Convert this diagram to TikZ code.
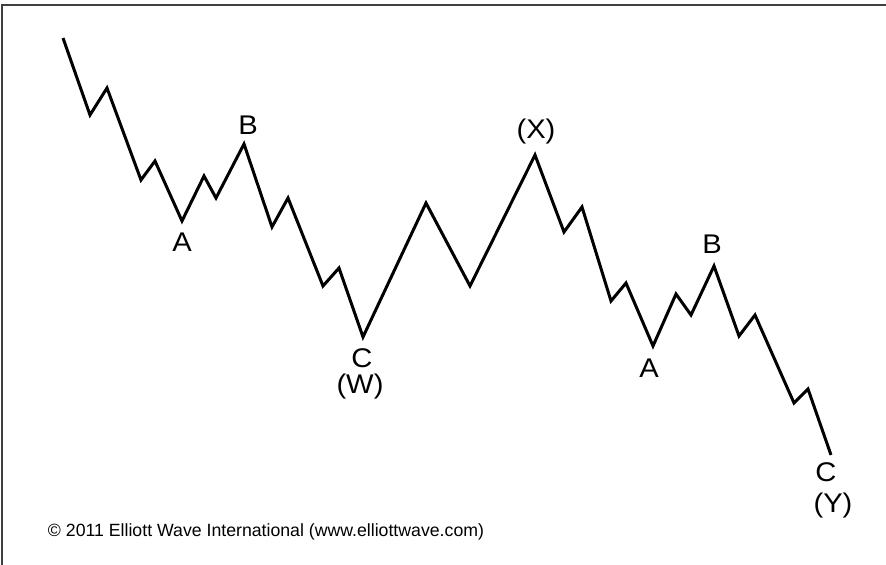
\documentclass[tikz,border=0pt]{standalone}
\usepackage{fontspec}
\setmainfont{Liberation Sans}
\begin{document}
\begin{tikzpicture}[x=1bp,y=-1bp,
  wave/.style={line width=3bp,black,line join=miter,line cap=butt},
  frame/.style={line width=2bp,black!75},
  lbl/.style={font=\fontsize{27bp}{29bp}\selectfont,inner sep=0pt,xscale=1.08,transform shape},
  copy/.style={font=\fontsize{17.7bp}{19bp}\selectfont,inner sep=0pt}]
\useasboundingbox (0,0) rectangle (886,565);
\fill[white] (0,0) rectangle (886,565);
\coordinate (tl) at (2,5);
\coordinate (tr) at (886,5);
\coordinate (bl) at (2,565);
\draw[frame] (tr) -- (tl) -- (bl);
\coordinate (p1) at (63,38);
\coordinate (p2) at (90,115);
\coordinate (p3) at (107,88);
\coordinate (p4) at (141,180);
\coordinate (p5) at (155,161);
\coordinate (p6) at (182,221);
\coordinate (p7) at (204,176);
\coordinate (p8) at (216,198);
\coordinate (p9) at (244,144);
\coordinate (p10) at (272,227);
\coordinate (p11) at (288,198);
\coordinate (p12) at (323,286);
\coordinate (p13) at (339,268);
\coordinate (p14) at (363,337);
\coordinate (p15) at (426,203);
\coordinate (p16) at (470,286);
\coordinate (p17) at (535,155);
\coordinate (p18) at (564,232);
\coordinate (p19) at (582,207);
\coordinate (p20) at (611,301);
\coordinate (p21) at (626,283);
\coordinate (p22) at (653,346);
\coordinate (p23) at (676,294);
\coordinate (p24) at (691,315);
\coordinate (p25) at (714,266);
\coordinate (p26) at (739,336);
\coordinate (p27) at (755,315);
\coordinate (p28) at (794,403);
\coordinate (p29) at (808,389);
\coordinate (p30) at (831,455);
\draw[wave] (p1) -- (p2) -- (p3) -- (p4) -- (p5) -- (p6) -- (p7) -- (p8) -- (p9) -- (p10)
  -- (p11) -- (p12) -- (p13) -- (p14) -- (p15) -- (p16) -- (p17) -- (p18) -- (p19) -- (p20)
  -- (p21) -- (p22) -- (p23) -- (p24) -- (p25) -- (p26) -- (p27) -- (p28) -- (p29) -- (p30);
\node[lbl] (a1) at (182,242) {A};
\node[lbl] (b1) at (248,125) {B};
\node[lbl] (c1) at (362,358) {C};
\node[lbl] (w) at (360,387) {(W)};
\node[lbl] (x) at (536,132) {(X)};
\node[lbl] (a2) at (649,368) {A};
\node[lbl] (b2) at (712,244) {B};
\node[lbl] (c2) at (826,472) {C};
\node[lbl] (y) at (833,506) {(Y)};
\node[copy] (cr) at (266,532) {© 2011 Elliott Wave International (www.elliottwave.com)};
\end{tikzpicture}
\end{document}
